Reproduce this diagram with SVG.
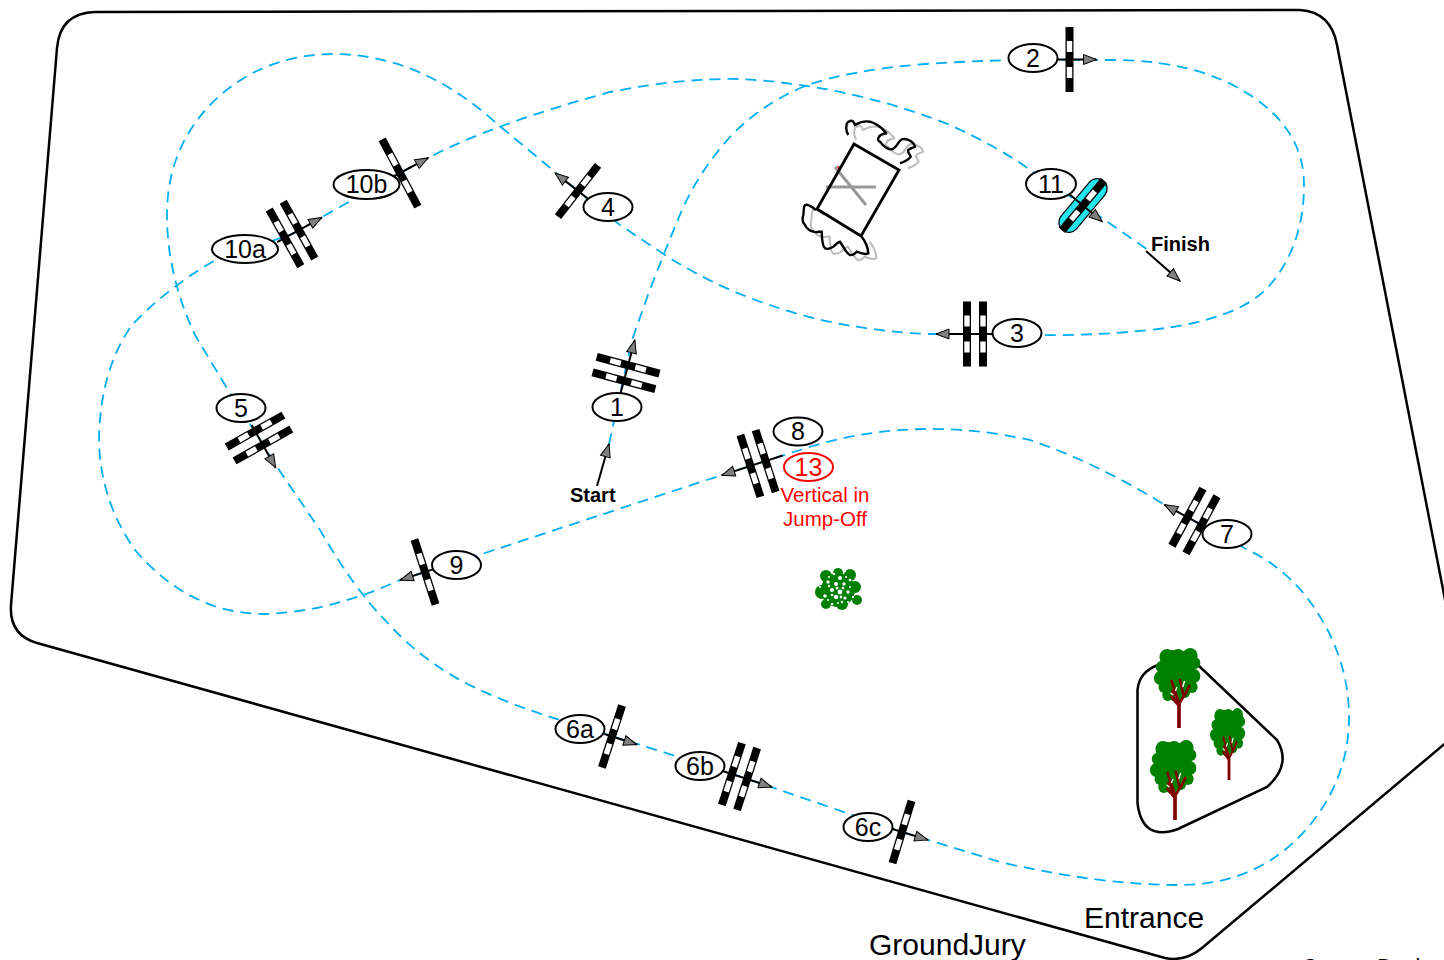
<svg xmlns="http://www.w3.org/2000/svg" xmlns:xlink="http://www.w3.org/1999/xlink" width="1444" height="960" viewBox="0 0 1444 960">
<style>
text{font-family:"Liberation Sans",Arial,sans-serif;fill:#000}
.lb{font-size:25px;text-anchor:middle}
.el{fill:#fff;stroke:#000;stroke-width:2}
.rt{stroke:#00aeef;stroke-width:1.8;fill:none;stroke-dasharray:11 7}
.ar{stroke:#000;stroke-width:2;fill:none;marker-end:url(#ah)}
.bold{font-size:20px;font-weight:bold}
.red{fill:#f00}
</style>
<defs>
<marker id="ah" markerUnits="userSpaceOnUse" markerWidth="16" markerHeight="14" refX="14" refY="6" orient="auto"><path d="M1 1L14 6L1 11Z" fill="#808080" stroke="#000" stroke-width="1"/></marker>
<g id="pole"><rect x="-4" y="-32.500" width="8" height="65" fill="#000"/><rect x="-2.700" y="-18.500" width="5.400" height="11" fill="#fff"/><rect x="-2.700" y="7.500" width="5.400" height="11" fill="#fff"/></g>
<g id="dbl"><use xlink:href="#pole" x="-8"/><use xlink:href="#pole" x="8"/></g>
<g id="tree">
<g fill="#008000"><circle cx="-13" cy="-71" r="8"/><circle cx="-1" cy="-71" r="8"/><circle cx="12" cy="-72" r="8"/><circle cx="17" cy="-65" r="6"/><circle cx="-19" cy="-61" r="6"/><circle cx="-20" cy="-50" r="7"/><circle cx="-16" cy="-41" r="6"/><circle cx="-12" cy="-33" r="6"/><circle cx="16" cy="-52" r="7"/><circle cx="14" cy="-41" r="6"/><circle cx="-1" cy="-52" r="20"/><circle cx="-3" cy="-35" r="9"/><circle cx="6" cy="-36" r="6"/><circle cx="-8" cy="-66" r="12"/><circle cx="7" cy="-65" r="12"/></g>
<g stroke="#800000" fill="none" stroke-linecap="round"><path d="M0 0V-24" stroke-width="4" stroke-linecap="butt"/><path d="M0 -22L-8 -31M0 -24L-7 -37M-1 -28L-8 -47M0 -24L8 -36L11 -42M5 -32L1 -48" stroke-width="2.800"/></g>
<path d="M-2 -41L-4 -37M6 -47L4 -41M-9 -35L-6 -33" stroke="#fff" stroke-width="1.500"/>
</g>
<path id="fl" d="M848.300 135C845 130 846 122 849 121.700C852 119 854 122 855 125C860 122 866 121 870 121.700C875 123 881 127 883.300 130C887 133 886 134 886 133.300C882 134 878 136 879.300 136.700C877 139 878 141 880 141.700C884 147 889 150 891.700 149.300C897 148 898 141 901.700 139.300C906 138 911 141 913.300 143.300L915 146.700C912 148 909 149 908.300 150C907 152 910 154 910.700 156.700C908 160 904 162 900 163.300M816 210C811 206 807 204 805 205C803 208 804 212 803.300 215C802 219 803 223 805 225C807 229 810 231 813.300 231.700C817 233 820 231 821.700 231.700C822 238 822 246 825 248.300C828 250 831 248 833.300 246.700C836 244 838 242 840 241.700C843 246 846 253 850 255C853 256 855 253 856.700 251.700C860 253 866 255 868.300 253.300C868 247 865 241 861.700 236.700" fill="none"/>
</defs>

<g id="course"><path d="M1448 741L1202 948Q1185 962 1165 958L37 643Q9 635 11 605L57 48Q60 13 95 12L1300 10Q1331 12 1337 45L1448 615" fill="none" stroke="#000" stroke-width="2.500"/></g>

<g id="connectors">
<path class="rt" d="M609 444L632 340L648 295Q665 250 682 210Q700 170 730 137Q760 105 805 86Q850 70 925 64Q1000 59 1069 60"/>
<path class="rt" d="M1069 60L1120 60Q1200 62 1250 95Q1304 130 1304 185Q1304 245 1270 285Q1240 320 1150 330Q1090 336 1040 335L975 334"/>
<path class="rt" d="M975 334L930 334Q840 330 770 305Q715 287 665 255L620 225L578 191"/>
<path class="rt" d="M578 191L495 122Q420 55 335 54Q260 54 210 105Q167 150 167 215Q167 275 195 335L228 390L259 438"/>
<path class="rt" d="M259 438L277 467L320 530Q355 590 385 620Q425 665 480 690Q520 708 560 720L612 736"/>
<path class="rt" d="M612 736L739 776L902 832L1000 862Q1100 885 1180 885Q1260 885 1310 825Q1350 775 1349 715Q1348 650 1305 595Q1280 565 1248 550L1194 521"/>
<path class="rt" d="M1194 521L1165 505Q1095 462 1030 440Q975 428 925 429Q860 430 800 450L722 475L485 553L425 572"/>
<path class="rt" d="M425 572L400 580Q330 612 265 614Q190 614 135 550Q100 500 99 440Q100 370 132 325Q165 290 212 262L292 234"/>
<path class="rt" d="M292 234L400 173L428 158Q490 125 610 92Q680 78 740 79Q850 85 950 125Q1000 148 1030 170L1083 205L1148 250"/>
<path class="ar" d="M597 486L609 444"/>
<path class="ar" d="M1146 251L1180 281"/>
</g>

<g id="start"><text class="bold" x="570" y="502">Start</text></g>
<g id="finish"><text class="bold" x="1151" y="251">Finish</text></g>

<g id="obstacle-rect">
<use xlink:href="#fl" x="8" y="5" stroke="#bbb" stroke-width="2"/>
<use xlink:href="#fl" stroke="#000" stroke-width="2.400"/>
<path d="M835 167L866 205M826 187H876" stroke="#999" stroke-width="3" fill="none"/>
<path d="M837 166L842 167L839 171Z" fill="#f00"/>
<path d="M854 144L899 170L861 236L817 209Z" fill="none" stroke="#000" stroke-width="2.800"/>
</g>

<g id="bush" fill="#008000">
<circle cx="838" cy="590" r="17"/><circle cx="826" cy="576" r="6"/><circle cx="838" cy="573" r="5"/><circle cx="850" cy="575" r="6"/><circle cx="822" cy="592" r="7"/><circle cx="855" cy="587" r="6"/><circle cx="857" cy="600" r="5"/><circle cx="842" cy="604" r="6"/><circle cx="826" cy="604" r="5"/>
<g fill="#fff"><circle cx="834" cy="574" r="1.300"/><circle cx="845" cy="571" r="1.200"/><circle cx="840" cy="578" r="2"/><circle cx="828" cy="582" r="1.700"/><circle cx="836" cy="584" r="2"/><circle cx="844" cy="584" r="1.700"/><circle cx="850" cy="580" r="1.300"/><circle cx="820" cy="587" r="1.100"/><circle cx="832" cy="590" r="2"/><circle cx="840" cy="592" r="2.400"/><circle cx="848" cy="592" r="1.700"/><circle cx="825" cy="596" r="1.800"/><circle cx="836" cy="597" r="2.200"/><circle cx="845" cy="598" r="1.600"/><circle cx="853" cy="597" r="1.200"/><circle cx="832" cy="604" r="1.300"/><circle cx="842" cy="602" r="1.300"/><circle cx="822" cy="600" r="1"/><circle cx="829" cy="577" r="1"/><circle cx="846" cy="577" r="1.100"/><circle cx="837" cy="588" r="1.500"/><circle cx="843" cy="588" r="1.300"/><circle cx="829" cy="586" r="1.200"/><circle cx="832" cy="595" r="1.300"/><circle cx="841" cy="597" r="1.400"/><circle cx="850" cy="587" r="1"/><circle cx="828" cy="600" r="1.100"/><circle cx="848" cy="602" r="1"/><circle cx="838" cy="603" r="1"/></g>
</g>

<g id="island">
<path d="M1198 665L1277 740Q1292 765 1267 787L1178 829Q1142 842 1137.500 803V690Q1139 672 1158 665" fill="none" stroke="#000" stroke-width="2.500"/>
<use xlink:href="#tree" transform="translate(1179 728) scale(.93 1)"/>
<use xlink:href="#tree" transform="translate(1175 820) scale(.93 1)"/>
<use xlink:href="#tree" transform="translate(1229 780) scale(.7 .9)"/>
</g>

<g id="jump-1"><g transform="translate(626 373) rotate(-75)"><use xlink:href="#dbl"/><line class="ar" x1="-21" y1="0" x2="34" y2="0"/></g><ellipse class="el" cx="617" cy="407" rx="24.500" ry="14"/><text class="lb" x="617" y="415.500">1</text></g>
<g id="jump-2"><g transform="translate(1069.500 59.500)"><use xlink:href="#pole"/><line class="ar" x1="-15" y1="0" x2="27" y2="0"/></g><ellipse class="el" cx="1033" cy="58" rx="24.500" ry="14"/><text class="lb" x="1033" y="66.500">2</text></g>
<g id="jump-3"><g transform="translate(975 334) rotate(180)"><use xlink:href="#dbl"/><line class="ar" x1="-20" y1="0" x2="39" y2="0"/></g><ellipse class="el" cx="1017" cy="333" rx="24.500" ry="14"/><text class="lb" x="1017" y="341.500">3</text></g>
<g id="jump-4"><g transform="translate(578 191) rotate(-142)"><use xlink:href="#pole"/><line class="ar" x1="-18" y1="0" x2="29" y2="0"/></g><ellipse class="el" cx="608" cy="207" rx="24.500" ry="14"/><text class="lb" x="608" y="215.500">4</text></g>
<g id="jump-5"><g transform="translate(259 438) rotate(60.700)"><use xlink:href="#dbl"/><line class="ar" x1="-15" y1="0" x2="34" y2="0"/></g><ellipse class="el" cx="241" cy="408" rx="24.500" ry="14"/><text class="lb" x="241" y="416.500">5</text></g>
<g id="jump-6a"><g transform="translate(612 736.500) rotate(18)"><use xlink:href="#pole"/><line class="ar" x1="-8" y1="0" x2="26" y2="0"/></g><ellipse class="el" cx="580" cy="729" rx="24.500" ry="14"/><text class="lb" x="580" y="737.500">6a</text></g>
<g id="jump-6b"><g transform="translate(739.500 776.500) rotate(18)"><use xlink:href="#dbl"/><line class="ar" x1="-17" y1="0" x2="34" y2="0"/></g><ellipse class="el" cx="700" cy="766" rx="24.500" ry="14"/><text class="lb" x="700" y="774.500">6b</text></g>
<g id="jump-6c"><g transform="translate(902 832) rotate(17)"><use xlink:href="#pole"/><line class="ar" x1="-10" y1="0" x2="27" y2="0"/></g><ellipse class="el" cx="868" cy="827" rx="24.500" ry="14"/><text class="lb" x="868" y="835.500">6c</text></g>
<g id="jump-7"><g transform="translate(1194.500 521) rotate(208.500)"><use xlink:href="#dbl"/><line class="ar" x1="-18" y1="0" x2="34" y2="0"/></g><ellipse class="el" cx="1227" cy="534" rx="24.500" ry="14"/><text class="lb" x="1227" y="542.500">7</text></g>
<g id="jump-8"><g transform="translate(758 463.500) rotate(162)"><use xlink:href="#dbl"/><line class="ar" x1="-26" y1="0" x2="38" y2="0"/></g><ellipse class="el" cx="798" cy="431.500" rx="24.500" ry="14"/><text class="lb" x="798" y="440">8</text></g>
<g id="label-13"><ellipse class="el" style="stroke:#f00" cx="808.500" cy="467" rx="24.500" ry="14"/><text class="lb red" x="808.500" y="475.500">13</text><text class="red" font-size="20.500" x="825" y="502" text-anchor="middle">Vertical in</text><text class="red" font-size="20.500" x="825" y="526" text-anchor="middle">Jump-Off</text></g>
<g id="jump-9"><g transform="translate(425 572) rotate(162)"><use xlink:href="#pole" transform="scale(1 1.050)"/><line class="ar" x1="-10" y1="0" x2="26" y2="0"/></g><ellipse class="el" cx="456.500" cy="565" rx="24.500" ry="14"/><text class="lb" x="456.500" y="573.500">9</text></g>
<g id="jump-10a"><g transform="translate(292 234) rotate(-29)"><use xlink:href="#dbl"/><line class="ar" x1="-17" y1="0" x2="34" y2="0"/></g><ellipse class="el" cx="245" cy="249" rx="33" ry="14"/><text class="lb" x="245" y="257.500">10a</text></g>
<g id="jump-10b"><g transform="translate(400 173) rotate(-28)"><use xlink:href="#pole" transform="scale(1 1.170)"/><line class="ar" x1="-8" y1="0" x2="32" y2="0"/></g><ellipse class="el" cx="366.500" cy="184.500" rx="33" ry="14.500"/><text class="lb" x="366.500" y="193">10b</text></g>
<g id="jump-11"><g transform="translate(1083 205.500) rotate(40)"><rect x="-10" y="-32" width="20" height="64" rx="10" fill="#22e5ee" stroke="#000" stroke-width="1.200"/><use xlink:href="#pole"/><line class="ar" x1="-20" y1="0" x2="25" y2="0"/></g><ellipse class="el" cx="1051" cy="184" rx="25" ry="15"/><text class="lb" x="1051" y="192.500">11</text></g>

<g id="notes">
<text font-size="30" x="1084" y="928">Entrance</text>
<text font-size="30" x="869" y="955">GroundJury</text>
<text font-size="21.500" x="1302" y="973.500">Course Design</text>
</g>
</svg>
